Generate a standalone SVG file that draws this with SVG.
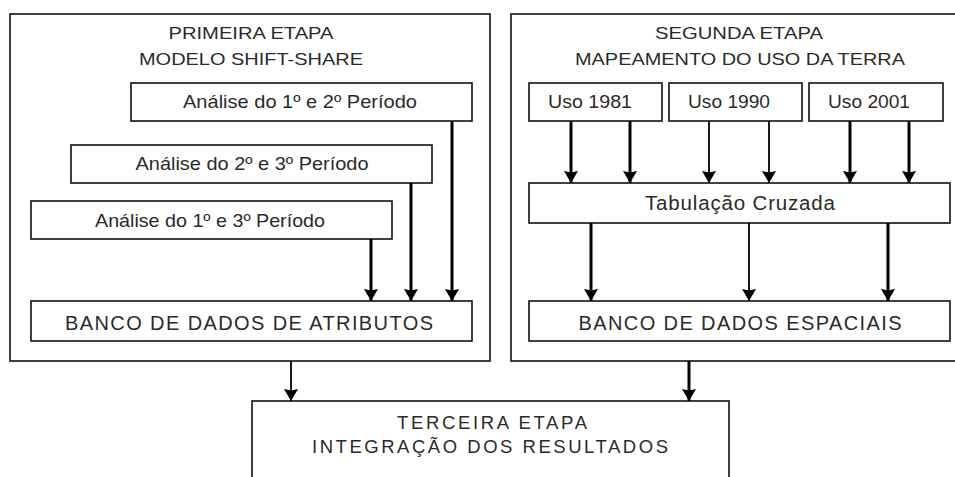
<svg xmlns="http://www.w3.org/2000/svg" width="955" height="477" viewBox="0 0 955 477">
<style>
.box{fill:#fff;stroke:#111;stroke-width:1.6}
.t{font-family:"Liberation Sans",Arial,sans-serif;fill:#2a2a2a;text-anchor:middle}
.thick{stroke:#000;stroke-width:3;fill:none}
.thin{stroke:#000;stroke-width:1.8;fill:none}
</style>
<defs>
<marker id="ah" markerUnits="userSpaceOnUse" markerWidth="13" markerHeight="16" refX="12" refY="7" orient="auto">
<path d="M0,0 L12,7 L0,14 L1.5,7 z" fill="#000"/>
</marker>
</defs>
<rect width="955" height="477" fill="#fff"/>
<g id="etapa1">
<rect class="box" x="10" y="14" width="480" height="347"/>
<text class="t" x="251" y="39" font-size="16.5" textLength="165" lengthAdjust="spacingAndGlyphs">PRIMEIRA ETAPA</text>
<text class="t" x="251" y="65" font-size="16.5" textLength="224" lengthAdjust="spacingAndGlyphs">MODELO SHIFT-SHARE</text>
</g>
<g id="analise12">
<rect class="box" x="131" y="83" width="341" height="38"/>
<text class="t" x="300" y="108" font-size="19" textLength="234" lengthAdjust="spacingAndGlyphs">Análise do 1º e 2º Período</text>
</g>
<g id="analise23">
<rect class="box" x="71" y="145" width="361" height="38"/>
<text class="t" x="252" y="170" font-size="19" textLength="233" lengthAdjust="spacingAndGlyphs">Análise do 2º e 3º Período</text>
</g>
<g id="analise13">
<rect class="box" x="31" y="201" width="361" height="38"/>
<text class="t" x="210" y="227" font-size="19" textLength="230" lengthAdjust="spacingAndGlyphs">Análise do 1º e 3º Período</text>
</g>
<g id="banco-atributos">
<rect class="box" x="31" y="301" width="441" height="40"/>
<text class="t" x="249" y="330" font-size="20" textLength="368" lengthAdjust="spacing">BANCO DE DADOS DE ATRIBUTOS</text>
</g>
<g id="etapa2">
<rect class="box" x="511" y="14" width="460" height="347"/>
<text class="t" x="739" y="39" font-size="16.5" textLength="168" lengthAdjust="spacingAndGlyphs">SEGUNDA ETAPA</text>
<text class="t" x="740" y="65" font-size="16.5" textLength="330" lengthAdjust="spacingAndGlyphs">MAPEAMENTO DO USO DA TERRA</text>
</g>
<g id="uso1981">
<rect class="box" x="529" y="83" width="133" height="38"/>
<text class="t" x="590" y="108" font-size="19" textLength="84" lengthAdjust="spacingAndGlyphs">Uso 1981</text>
</g>
<g id="uso1990">
<rect class="box" x="669" y="83" width="133" height="38"/>
<text class="t" x="729" y="108" font-size="19" textLength="82" lengthAdjust="spacingAndGlyphs">Uso 1990</text>
</g>
<g id="uso2001">
<rect class="box" x="809" y="83" width="134" height="38"/>
<text class="t" x="869" y="108" font-size="19" textLength="82" lengthAdjust="spacingAndGlyphs">Uso 2001</text>
</g>
<g id="tabulacao">
<rect class="box" x="529" y="183" width="421" height="40"/>
<text class="t" x="740" y="210" font-size="20.5" textLength="190" lengthAdjust="spacing">Tabulação Cruzada</text>
</g>
<g id="banco-espaciais">
<rect class="box" x="529" y="301" width="421" height="40"/>
<text class="t" x="740" y="330" font-size="20" textLength="323" lengthAdjust="spacing">BANCO DE DADOS ESPACIAIS</text>
</g>
<g id="etapa3">
<rect class="box" x="252" y="401" width="477" height="100"/>
<text class="t" x="492" y="429" font-size="18.5" textLength="190" lengthAdjust="spacing">TERCEIRA ETAPA</text>
<text class="t" x="490" y="453" font-size="18.5" textLength="356" lengthAdjust="spacing">INTEGRAÇÃO DOS RESULTADOS</text>
</g>
<g id="connectors">
<line class="thick" x1="452" y1="121" x2="452" y2="301" marker-end="url(#ah)"/>
<line class="thick" x1="411" y1="183" x2="411" y2="301" marker-end="url(#ah)"/>
<line class="thick" x1="371" y1="239" x2="371" y2="301" marker-end="url(#ah)"/>
<line class="thick" x1="571" y1="121" x2="571" y2="183" marker-end="url(#ah)"/>
<line class="thick" x1="630" y1="121" x2="630" y2="183" marker-end="url(#ah)"/>
<line class="thin" x1="709" y1="121" x2="709" y2="183" marker-end="url(#ah)"/>
<line class="thin" x1="769" y1="121" x2="769" y2="183" marker-end="url(#ah)"/>
<line class="thick" x1="850" y1="121" x2="850" y2="183" marker-end="url(#ah)"/>
<line class="thick" x1="909" y1="121" x2="909" y2="183" marker-end="url(#ah)"/>
<line class="thick" x1="591" y1="223" x2="591" y2="301" marker-end="url(#ah)"/>
<line class="thin" x1="749" y1="223" x2="749" y2="301" marker-end="url(#ah)"/>
<line class="thick" x1="888" y1="223" x2="888" y2="301" marker-end="url(#ah)"/>
<line class="thin" x1="291" y1="361" x2="291" y2="401" marker-end="url(#ah)"/>
<line class="thick" x1="689" y1="361" x2="689" y2="401" marker-end="url(#ah)"/>
</g>
</svg>
